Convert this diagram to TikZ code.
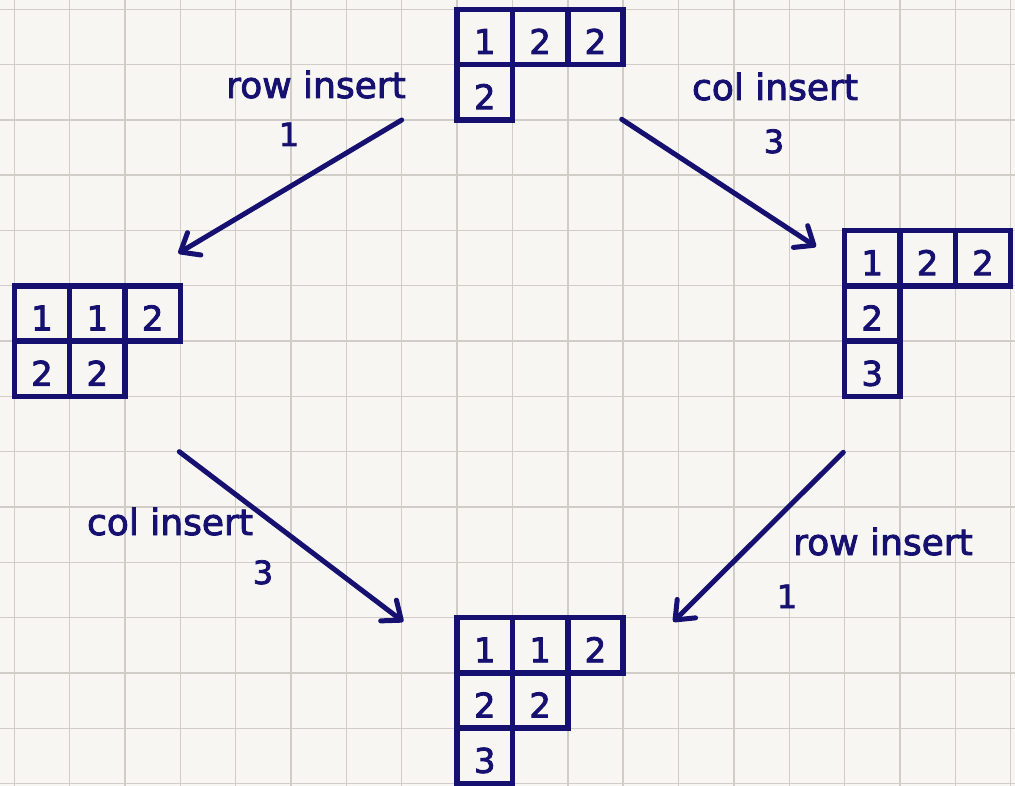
\documentclass[tikz,border=0pt]{standalone}
\usepackage{fontspec}
\setmainfont{DejaVu Sans}
\newfontfamily\inkfont{DejaVu Sans}[FakeBold=2.5]
\usetikzlibrary{arrows.meta}
\definecolor{ink}{RGB}{22,16,112}
\definecolor{paper}{RGB}{248,246,242}
\definecolor{rule}{RGB}{208,204,198}
\tikzset{
  cell/.style={draw=ink, line width=5.5pt, minimum width=55.35pt, minimum height=55.3pt,
    inner sep=0pt, text=ink, font=\inkfont\fontsize{34}{34}\selectfont, text height=34pt, text depth=0pt},
  move/.style={draw=ink, line width=5pt, line cap=round,
    -{Straight Barb[length=16pt,width=26pt,line cap=round,line join=round]}},
  lbl/.style={text=ink, font=\inkfont\fontsize{36}{36}\selectfont, anchor=base, inner sep=0pt},
  num/.style={text=ink, font=\inkfont\fontsize{32}{32}\selectfont, anchor=base, inner sep=0pt},
  gridline/.style={draw=rule, line width=1.4pt},
}
\begin{document}
\begin{tikzpicture}[x=1pt,y=-1pt]
  \useasboundingbox (0,0) rectangle (1015,786);
  \fill[paper] (0,0) rectangle (1015,786);
  % squared paper
  \foreach \k in {0,...,18} \draw[gridline] ({14.3+55.35*\k},0) -- ({14.3+55.35*\k},786);
  \foreach \k in {0,...,14} \draw[gridline] (0,{9.3+55.3*\k}) -- (1015,{9.3+55.3*\k});

  % top tableau
  \node[cell] (t11) at (484.775,36.95) {1};
  \node[cell] (t12) at (540.125,36.95) {2};
  \node[cell] (t13) at (595.475,36.95) {2};
  \node[cell] (t21) at (484.775,92.25) {2};

  % left tableau
  \node[cell] (l11) at (41.975,313.45) {1};
  \node[cell] (l12) at (97.325,313.45) {1};
  \node[cell] (l13) at (152.675,313.45) {2};
  \node[cell] (l21) at (41.975,368.75) {2};
  \node[cell] (l22) at (97.325,368.75) {2};

  % right tableau
  \node[cell] (r11) at (872.225,258.15) {1};
  \node[cell] (r12) at (927.575,258.15) {2};
  \node[cell] (r13) at (982.925,258.15) {2};
  \node[cell] (r21) at (872.225,313.45) {2};
  \node[cell] (r31) at (872.225,368.75) {3};

  % bottom tableau
  \node[cell] (b11) at (484.775,645.25) {1};
  \node[cell] (b12) at (540.125,645.25) {1};
  \node[cell] (b13) at (595.475,645.25) {2};
  \node[cell] (b21) at (484.775,700.55) {2};
  \node[cell] (b22) at (540.125,700.55) {2};
  \node[cell] (b31) at (484.775,755.85) {3};

  % arrow end points
  \coordinate (m1s) at (401.7,120);   \coordinate (m1e) at (178.3,253.3);
  \coordinate (m2s) at (621.7,119.3); \coordinate (m2e) at (816,246.7);
  \coordinate (m3s) at (179.3,451.7); \coordinate (m3e) at (403.3,621.7);
  \coordinate (m4s) at (843.3,452.3); \coordinate (m4e) at (673.3,621.7);

  \draw[move] (m1s) -- (m1e);
  \draw[move] (m2s) -- (m2e);
  \draw[move] (m3s) -- (m3e);
  \draw[move] (m4s) -- (m4e);

  % insertion labels
  \node[lbl] (n1) at (316,98) {row insert};
  \node[num] (k1) at (289,146) {1};
  \node[lbl] (n2) at (775,100) {col insert};
  \node[num] (k2) at (774,153) {3};
  \node[lbl] (n3) at (170,535) {col insert};
  \node[num] (k3) at (263,584) {3};
  \node[lbl] (n4) at (883,555) {row insert};
  \node[num] (k4) at (787,608) {1};
\end{tikzpicture}
\end{document}
